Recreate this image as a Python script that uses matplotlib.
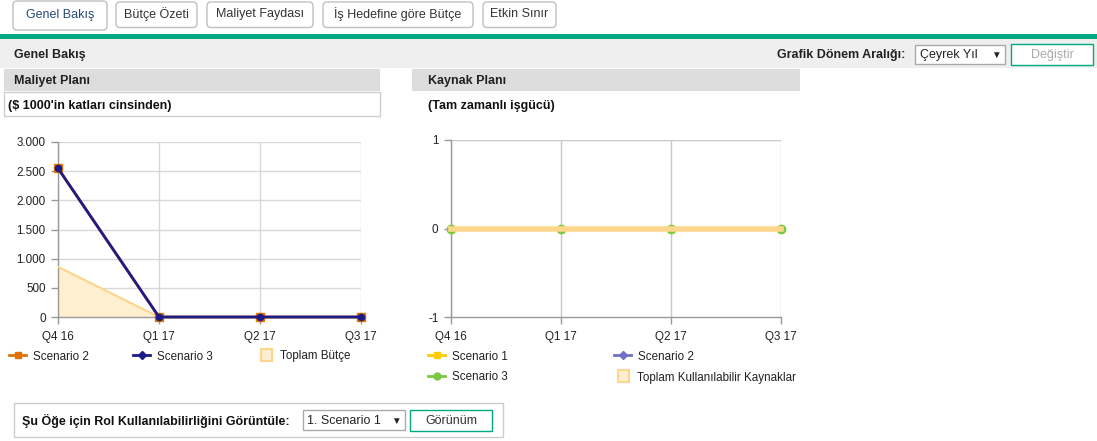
import numpy as np
import matplotlib
matplotlib.use('Agg')
import matplotlib.pyplot as plt
from matplotlib.patches import Rectangle, FancyBboxPatch
from matplotlib.lines import Line2D

plt.rcParams['font.family'] = ['Liberation Sans', 'DejaVu Sans']

#chart data
quarters = ['Q4 16', 'Q1 17', 'Q2 17', 'Q3 17']
cost_scenario2 = [2550, 0, 0, 0]
cost_scenario3 = [2550, 0, 0, 0]
total_budget = [860, 0, 0, 0]
cost_ticks = [0, 500, 1000, 1500, 2000, 2500, 3000]
cost_tick_labels = ['0', '500', '1.000', '1.500', '2.000', '2.500', '3.000']

res_scenario1 = [0, 0, 0, 0]
res_scenario2 = [0, 0, 0, 0]
res_scenario3 = [0, 0, 0, 0]
res_total = [0, 0, 0, 0]

tab_names = ['Genel Bakış', 'Bütçe Özeti', 'Maliyet Faydası', 'İş Hedefine göre Bütçe', 'Etkin Sınır']

W, H = 1097, 441
fig = plt.figure(figsize=(W / 100, H / 100), dpi=100)

#background axes in pixel coordinates for the page furniture
bg = fig.add_axes([0, 0, 1, 1])
bg.set_xlim(0, W)
bg.set_ylim(H, 0)
bg.axis('off')

GREEN = '#01a982'
FS = 9      # bold / tab text
FS_S = 8.4  # regular chart text
DY = 1.5    # small nudge down for text centred in pixel space

def box(x0, y0, x1, y1, fc='white', ec='none', lw=1, z=1):
    bg.add_patch(Rectangle((x0, y0), x1 - x0, y1 - y0, facecolor=fc, edgecolor=ec, lw=lw, zorder=z))

def txt(x, y, s, **kw):
    kw.setdefault('fontsize', FS)
    kw.setdefault('va', 'center')
    kw.setdefault('color', '#222222')
    kw.setdefault('zorder', 6)
    bg.text(x, y + DY, s, **kw)

#tabs
tab_x = [(13, 107), (116, 197), (207, 313), (323, 473), (483, 556)]
for i, (name, (x0, x1)) in enumerate(zip(tab_names, tab_x)):
    top = 1 if i == 0 else 2
    bottom = 30 if i == 0 else 27.5
    bg.add_patch(FancyBboxPatch((x0, top), x1 - x0, bottom - top, boxstyle='round,pad=0,rounding_size=4',
                                facecolor='white', edgecolor='#c0c0c0', lw=1, zorder=2))
    txt((x0 + x1) / 2, 13.5 if i == 0 else 12.5, name, ha='center',
        color='#333333' if i else '#2a4a7a', zorder=3)

#green bar and overview header
box(0, 34, W, 38.5, fc=GREEN, z=4)
box(0, 38.5, W, 68, fc='#efefef', z=3)
txt(14, 53.5, 'Genel Bakış', fontweight='bold')
txt(905, 53.5, 'Grafik Dönem Aralığı:', fontweight='bold', ha='right')
box(915, 44.5, 1005, 63.5, fc='white', ec='#aaaaaa', z=5)
txt(920, 53.5, 'Çeyrek Yıl')
txt(996, 53.5, '▼', fontsize=7, ha='center')
box(1011, 43.5, 1093, 64.5, fc='white', ec=GREEN, z=5)
txt(1052, 53.5, 'Değiştir', ha='center', color='#aaaaaa')

#section headers
box(4, 68.5, 380, 91, fc='#dddddd', z=3)
txt(14, 79.5, 'Maliyet Planı', fontweight='bold')
box(4, 91.5, 380, 116, fc='white', ec='#cfcfcf', z=3)
txt(8, 104, "($ 1000'in katları cinsinden)", fontweight='bold', color='#111111')
box(412, 68.5, 800, 91, fc='#dddddd', z=3)
txt(428, 79.5, 'Kaynak Planı', fontweight='bold')
txt(428, 104, '(Tam zamanlı işgücü)', fontweight='bold', color='#111111')

#bottom form
box(14, 403, 503, 436.5, fc='white', ec='#cccccc', z=3)
txt(22, 419.5, 'Şu Öğe için Rol Kullanılabilirliğini Görüntüle:', fontweight='bold', color='#111111')
box(303, 409.5, 405, 429.5, fc='white', ec='#aaaaaa', z=5)
txt(307, 419.5, '1. Scenario 1')
txt(396, 419.5, '▼', fontsize=7, ha='center')
box(410, 409.5, 492, 430.5, fc='white', ec=GREEN, z=5)
txt(451, 419.5, 'Görünüm', ha='center', color='#333333')

def px_axes(x0, y0, x1, y1):
    return fig.add_axes([x0 / W, 1 - y1 / H, (x1 - x0) / W, (y1 - y0) / H])

def style(ax):
    for s in ['top', 'right']:
        ax.spines[s].set_visible(False)
    for s in ['left', 'bottom']:
        ax.spines[s].set_color('#999999')
        ax.spines[s].set_linewidth(1)
    ax.tick_params(colors='#999999', labelcolor='#222222', labelsize=FS_S, width=1)
    ax.tick_params(axis='x', pad=5, length=5)
    ax.tick_params(axis='y', pad=4, length=5)
    ax.set_facecolor('none')

x = np.arange(len(quarters))

#cost plan chart
ax1 = px_axes(58, 142, 361, 317)
style(ax1)
ax1.set_xlim(0, 3)
ax1.set_ylim(0, 3000)
ax1.set_xticks(x)
ax1.set_xticklabels(quarters)
ax1.set_yticks(cost_ticks)
ax1.set_yticklabels(cost_tick_labels)
ax1.grid(True, color='#d8d8d8', lw=1)
ax1.set_axisbelow(True)
ax1.fill_between(x, total_budget, 0, color='#fdefcf', zorder=2)
ax1.plot(x, total_budget, color='#fcd68c', lw=1.5, zorder=3)
ax1.plot(x, cost_scenario2, color='#e07200', lw=2, marker='s', ms=6, zorder=4, clip_on=False)
ax1.plot(x, cost_scenario3, color='#1c1c88', lw=2, marker='o', ms=4.5, zorder=5, clip_on=False)

#resource plan chart
ax2 = px_axes(451, 140, 781, 317)
style(ax2)
ax2.set_xlim(0, 3)
ax2.set_ylim(-1, 1)
ax2.set_xticks(x)
ax2.set_xticklabels(quarters)
ax2.set_yticks([-1, 0, 1])
ax2.set_yticklabels(['-1', '0', '1'])
ax2.grid(True, axis='x', color='#c8c8c8', lw=1)
ax2.axhline(1, color='#c8c8c8', lw=1, zorder=0)
ax2.set_axisbelow(True)
ax2.plot(x, res_scenario1, color='#ffcc00', lw=2, marker='s', ms=5, zorder=3, clip_on=False)
ax2.plot(x, res_scenario2, color='#7070c8', lw=2, marker='D', ms=4, zorder=3, clip_on=False)
ax2.plot(x, res_scenario3, color='#7cc840', lw=2, marker='o', ms=6, zorder=4, clip_on=False)
ax2.plot(x, res_total, color='#fdd88c', lw=4, zorder=5, clip_on=False)

#legends
def leg_line(x0, y, color, marker, ms, label):
    bg.add_line(Line2D([x0, x0 + 17], [y, y], color=color, lw=2, zorder=5))
    bg.add_line(Line2D([x0 + 8.5], [y], color=color, marker=marker, ms=ms, lw=0, zorder=6))
    txt(x0 + 24, y, label, fontsize=FS_S)

def leg_box(x0, y, fc, ec, label):
    box(x0, y - 6, x0 + 11, y + 6, fc=fc, ec=ec, lw=1.5, z=5)
    txt(x0 + 19, y, label, fontsize=FS_S)

leg_line(9, 355, '#e07200', 's', 5, 'Scenario 2')
leg_line(133, 355, '#1c1c88', 'D', 4, 'Scenario 3')
leg_box(261, 355, '#fdefcf', '#fcd68c', 'Toplam Bütçe')

leg_line(428, 355, '#ffcc00', 's', 5, 'Scenario 1')
leg_line(614, 355, '#7070c8', 'D', 4, 'Scenario 2')
leg_line(428, 376, '#7cc840', 'o', 5, 'Scenario 3')
leg_box(618, 376, '#fdefcf', '#fcd68c', 'Toplam Kullanılabilir Kaynaklar')

fig.savefig('out.png', dpi=100, facecolor='white')
